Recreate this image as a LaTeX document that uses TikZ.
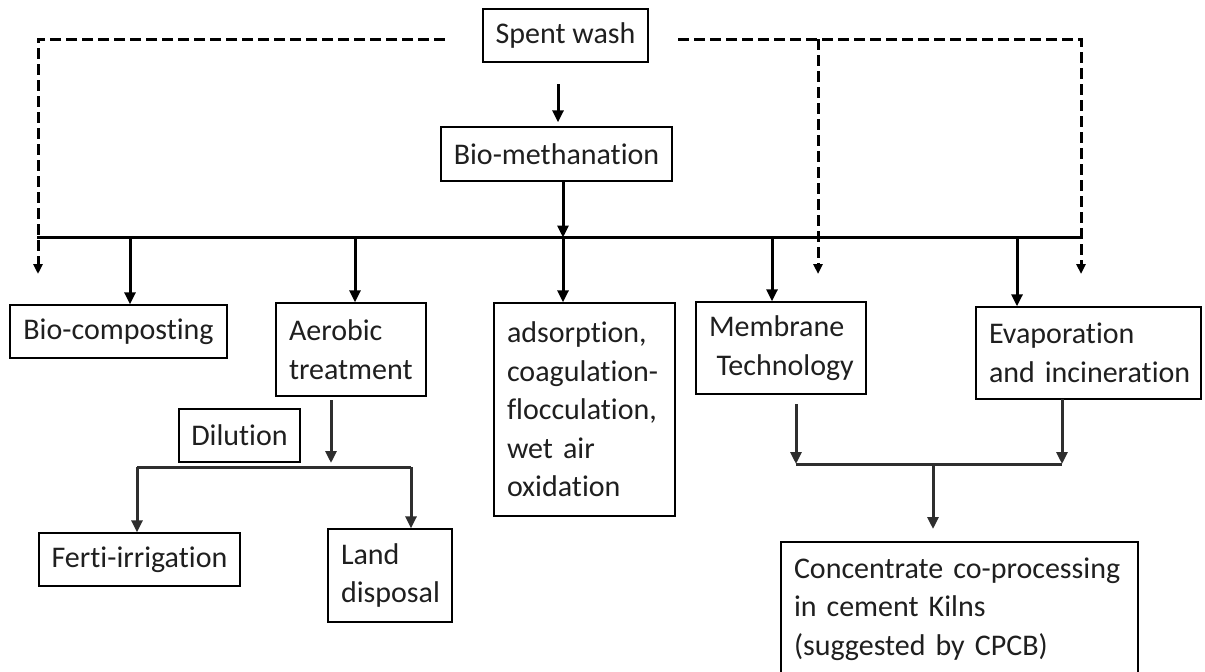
\documentclass[tikz,border=0pt]{standalone}
\usepackage{fontspec}
\setmainfont{Carlito}[Ligatures=NoCommon]
\usetikzlibrary{arrows.meta}
\begin{document}
\begin{tikzpicture}[x=1pt,y=-1pt,
  box/.style={draw=black, line width=1.4pt, inner sep=0pt, text=black!88,
    font=\fontsize{30}{38.5}\selectfont, align=center},
  lbox/.style={box, align=left, inner xsep=13pt, text width=#1},
  conn/.style={line width=3pt, draw=black},
  connl/.style={line width=3pt, draw=black!82},
  arr/.style={-{Triangle[length=12pt,width=11pt]}},
  sarr/.style={-{Triangle[length=10pt,width=9pt]}},
  dsh/.style={line width=3pt, dash pattern=on 11pt off 5pt}]
\clip (0,0) rectangle (1205,672);
\fill[white] (0,0) rectangle (1205,672);

% boxes
\node[box, minimum width=165pt, minimum height=53pt] (sw) at (565.5,35.5) {Spent wash};
\node[box, minimum width=231pt, minimum height=54pt] (bm) at (556.5,154) {Bio-methanation};
\node[box, minimum width=217pt, minimum height=53pt] (bc) at (118.5,331.5) {Bio-composting};
\node[lbox=124pt, minimum width=150pt, minimum height=93pt] (ae) at (351,349.5) {\mbox{Aerobic}\\\mbox{treatment}};
\node[lbox=155pt, minimum width=181pt, minimum height=213pt] (ad) at (584.5,409.5) {\mbox{adsorption,}\\\mbox{coagulation-}\\\mbox{flocculation,}\\\mbox{wet air}\\\mbox{oxidation}};
\node[lbox=144pt, minimum width=170pt, minimum height=92pt] (mb) at (781,348) {\mbox{Membrane}\\\mbox{\hspace*{0.25em}Technology}};
\node[lbox=199pt, minimum width=225pt, minimum height=92pt] (ev) at (1088.5,353) {\mbox{Evaporation}\\\mbox{and incineration}};
\node[box, minimum width=121pt, minimum height=53pt] (dl) at (239.5,435.5) {Dilution};
\node[box, minimum width=201pt, minimum height=53pt] (fi) at (139.5,559.5) {Ferti-irrigation};
\node[lbox=98pt, minimum width=124pt, minimum height=93pt] (ld) at (390,575.5) {\mbox{Land}\\\mbox{disposal}};
\node[lbox=331pt, minimum width=357pt, minimum height=134pt] (cc) at (959.5,609) {\mbox{Concentrate co-processing}\\\mbox{in cement Kilns}\\\mbox{(suggested by CPCB)}};

% coordinates
\coordinate (swo) at (558,84);
\coordinate (busL) at (37,237.5);
\coordinate (busR) at (1080,237.5);
\coordinate (bmj) at (563,237.5);
\coordinate (j1) at (130,237.5);
\coordinate (j2) at (355,237.5);
\coordinate (j3) at (772,237.5);
\coordinate (j4) at (1017,237.5);
\coordinate (dL1) at (445,39);
\coordinate (dC1) at (38,39);
\coordinate (dE1) at (38,274);
\coordinate (dL2) at (678,39);
\coordinate (dC2) at (1081,39);
\coordinate (dE2) at (1081,274);
\coordinate (dM) at (818,39);
\coordinate (dE3) at (818,274);
\coordinate (aeo) at (331,400);
\coordinate (aej) at (331,463);
\coordinate (dbL) at (137,467);
\coordinate (dbR) at (411,467);
\coordinate (mbo) at (796,404);
\coordinate (mbj) at (796,464);
\coordinate (evo) at (1062,399);
\coordinate (evj) at (1062,464);
\coordinate (cj) at (933,463);
\coordinate (ce) at (933,529);

% top connectors
\draw[conn, arr, shorten >=4pt] (swo) -- (swo |- bm.north);
\draw[conn, arr] (bm.south -| bmj) -- (bmj);
\draw[conn, arr] (bmj) -- (bmj |- ad.north);
\draw[conn] (busL) -- (busR);
\draw[conn, arr] (j1) -- (j1 |- bc.north);
\draw[conn, arr] (j2) -- (j2 |- ae.north);
\draw[conn, arr] (j3) -- (j3 |- mb.north);
\draw[conn, arr] (j4) -- (j4 |- ev.north);

% dashed connectors
\draw[dsh] (dL1) -- (dC1) -- ([yshift=8pt]dE1);
\draw[dsh] (dL2) -- (dC2) -- ([yshift=8pt]dE2);
\draw[dsh] (dM) -- ([yshift=8pt]dE3);
\draw[line width=3pt, sarr] ([yshift=9pt]dE1) -- (dE1);
\draw[line width=3pt, sarr] ([yshift=9pt]dE2) -- (dE2);
\draw[line width=3pt, sarr] ([yshift=9pt]dE3) -- (dE3);

% aerobic branch
\draw[connl, arr] (aeo) -- (aej);
\draw[connl] (dbL) -- (dbR);
\draw[connl, arr] (dbL) -- (dbL |- fi.north);
\draw[connl, arr] (dbR) -- (dbR |- ld.north);

% membrane / evaporation branch
\draw[connl, arr] (mbo) -- (mbj);
\draw[connl, arr] (evo) -- (evj);
\draw[connl] (mbj) -- (evj);
\draw[connl, arr] (cj) -- (ce);
\end{tikzpicture}
\end{document}
